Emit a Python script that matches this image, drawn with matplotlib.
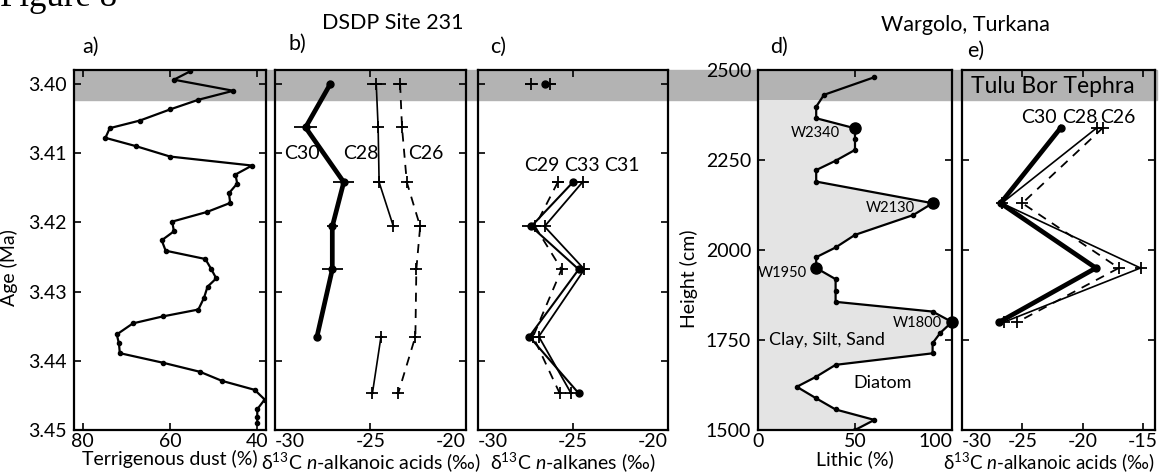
import numpy as np
import matplotlib
matplotlib.use("Agg")
import matplotlib.pyplot as plt
from matplotlib.patches import Rectangle

plt.rcParams['font.family'] = ['Lato', 'DejaVu Sans']
plt.rcParams['mathtext.fontset'] = 'custom'
plt.rcParams['mathtext.rm'] = 'Lato'
plt.rcParams['mathtext.it'] = 'Lato:italic'
plt.rcParams['mathtext.default'] = 'regular'

# ---- panel a: terrigenous dust, DSDP 231
dust_age = [3.3982, 3.3994, 3.4010, 3.4023, 3.4037, 3.4053, 3.4064, 3.4078, 3.4090, 3.4105,
            3.4118, 3.4131, 3.4144, 3.4158, 3.4172, 3.4185, 3.4199, 3.4213, 3.4226, 3.4241,
            3.4253, 3.4267, 3.4281, 3.4293, 3.4309, 3.4326, 3.4336, 3.4346, 3.4362, 3.4375,
            3.4389, 3.4403, 3.4416, 3.4429, 3.4442, 3.4456, 3.4470, 3.4481, 3.4490]
dust_pct = [55.4, 59.1, 45.5, 53.5, 60.0, 66.9, 73.8, 74.8, 67.8, 60.0,
            41.2, 45.0, 44.6, 46.5, 46.2, 51.5, 59.5, 59.1, 61.9, 61.0,
            51.9, 50.6, 49.4, 51.4, 52.2, 53.5, 61.7, 68.5, 72.2, 71.7,
            71.5, 61.5, 53.1, 48.1, 40.6, 38.3, 40.0, 40.0, 40.0]

# ---- panel b: n-alkanoic acids, DSDP 231
acid_age = [3.4000, 3.4063, 3.4142, 3.4206, 3.4268, 3.4365, 3.4447]
acid_c30 = [-27.1, -28.4, -26.4, -27.0, -27.0, -27.8, np.nan]
acid_c30_err = [0, 0.6, 0.55, 0.3, 0.55, 0, 0]
acid_c28 = [-24.7, -24.6, -24.55, -23.8, np.nan, -24.45, -24.9]
acid_c28_err = [0.5, 0.1, 0.3, 0.1, 0, 0.1, 0.1]
acid_c26 = [-23.45, -23.35, -23.1, -22.4, -22.6, -22.65, -23.55]
acid_c26_err = [0.35, 0.1, 0.1, 0.3, 0.1, 0.1, 0.1]

# ---- panel c: n-alkanes, DSDP 231
alk_age = [3.4000, 3.4063, 3.4142, 3.4206, 3.4268, 3.4365, 3.4447]
alk_c29 = [-27.2, np.nan, -25.8, -27.0, -25.6, -27.1, -25.7]
alk_c29_err = [0.35, 0, 0.3, 0.2, 0.1, 0.1, 0.1]
alk_c33 = [-26.5, np.nan, -25.0, -27.2, -24.7, -27.3, -24.7]
alk_c33_err = [0.1, 0, 0.1, 0.5, 0.1, 0.1, 0.1]
alk_c31 = [-26.2, np.nan, -24.5, -26.5, -24.4, -26.8, -25.1]
alk_c31_err = [0.3, 0, 0.3, 0.1, 0.2, 0.1, 0.1]

# ---- panel d: lithic %, Wargolo
lith_h = [2480, 2431, 2398, 2366, 2338, 2307, 2278, 2248, 2222, 2190,
          2130, 2097, 2042, 2007, 1980, 1950, 1919, 1887, 1856, 1829,
          1800, 1770, 1741, 1713, 1681, 1648, 1620, 1588, 1557, 1528, 1500]
lith_pct = [60, 34, 30, 30, 50, 50, 50, 40, 30, 30,
            90, 80, 50, 40, 30, 30, 40, 40, 40, 90,
            100, 94, 90, 90, 40, 30, 20, 30, 40, 60, 50]
sample_names = ['W2340', 'W2130', 'W1950', 'W1800']
sample_h = [2340, 2130, 1950, 1800]
sample_pct = [50, 90, 30, 100]

# ---- panel e: n-alkanoic acids, Wargolo samples
w_h = [2340, 2130, 1950, 1800]
w_c30 = [-21.8, -26.8, -18.9, -26.9]
w_c28 = [-18.8, -26.7, -15.2, -26.5]
w_c26 = [-18.3, -25.0, -17.0, -25.4]

W, H = 1164, 476
fig = plt.figure(figsize=(W / 100, H / 100), dpi=100)


def box(x0, x1, y0=70, y1=430):
    return [x0 / W, 1 - y1 / H, (x1 - x0) / W, (y1 - y0) / H]


band_col = '#b3b3b3'
fig.patches.append(Rectangle((74 / W, 1 - 100 / H), (1157 - 74) / W, 30 / H,
                             transform=fig.transFigure, color=band_col, zorder=-1))

ax_a = fig.add_axes(box(74, 266))
ax_b = fig.add_axes(box(275, 466))
ax_c = fig.add_axes(box(478, 668))
ax_d = fig.add_axes(box(758, 952))
ax_e = fig.add_axes(box(962, 1155))

FS = 14
FT = 15.5
for ax in [ax_a, ax_b, ax_c, ax_d, ax_e]:
    ax.set_facecolor('none')
    ax.tick_params(direction='in', top=True, right=True, length=5, width=1.2,
                   labelsize=FS, pad=2)
    ax.tick_params(axis='y', pad=5)
    for s in ax.spines.values():
        s.set_linewidth(1.6)

# a
ax_a.plot(dust_pct, dust_age, '-', color='k', lw=1.6, marker='o', ms=3)
ax_a.set_xlim(82, 38)
ax_a.set_ylim(3.45, 3.398)
ax_a.set_xticks([80, 60, 40])
ax_a.set_yticks([3.40, 3.41, 3.42, 3.43, 3.44, 3.45])
ax_a.set_yticklabels(['3.40', '3.41', '3.42', '3.43', '3.44', '3.45'])
ax_a.set_xlabel('Terrigenous dust (%)', fontsize=FS, labelpad=0)
ax_a.set_ylabel('Age (Ma)', fontsize=FS)
ax_a.yaxis.set_label_coords(-0.29, 0.45)

# b
ax_b.errorbar(acid_c30, acid_age, xerr=acid_c30_err, color='k', lw=3.4, marker='o', ms=5,
              capsize=0, elinewidth=1.3)
ax_b.errorbar(acid_c28, acid_age, xerr=acid_c28_err, color='k', lw=1.2, marker='+', ms=9,
              mew=1.3, capsize=0, elinewidth=1.3)
ax_b.errorbar(acid_c26, acid_age, xerr=acid_c26_err, color='k', lw=1.3, ls=(0, (5, 4)),
              marker='+', ms=9, mew=1.3, capsize=0, elinewidth=1.3)
ax_b.text(-28.6, 3.4100, 'C30', fontsize=FS, ha='center', va='center')
ax_b.text(-25.5, 3.4100, 'C28', fontsize=FS, ha='center', va='center')
ax_b.text(-22.1, 3.4100, 'C26', fontsize=FS, ha='center', va='center')
ax_b.set_xlim(-30, -20)
ax_b.set_xlabel('δ$^{13}$C $\\it{n}$-alkanoic acids (‰)', fontsize=FS, labelpad=0)

# c
ax_c.errorbar(alk_c29, alk_age, xerr=alk_c29_err, color='k', lw=1.3, ls=(0, (5, 4)),
              marker='+', ms=9, mew=1.3, capsize=0, elinewidth=1.3)
ax_c.errorbar(alk_c33, alk_age, xerr=alk_c33_err, color='k', lw=1.5, marker='o', ms=5,
              capsize=0, elinewidth=1.3)
ax_c.errorbar(alk_c31, alk_age, xerr=alk_c31_err, color='k', lw=1.3, marker='+', ms=9,
              mew=1.3, capsize=0, elinewidth=1.3)
ax_c.text(-26.66, 3.4118, 'C29', fontsize=FS, ha='center', va='center')
ax_c.text(-24.55, 3.4118, 'C33', fontsize=FS, ha='center', va='center')
ax_c.text(-22.45, 3.4118, 'C31', fontsize=FS, ha='center', va='center')
ax_c.set_xlim(-30, -20)
ax_c.set_xlabel('δ$^{13}$C $\\it{n}$-alkanes (‰)', fontsize=FS, labelpad=0)

for ax in [ax_b, ax_c]:
    ax.set_ylim(3.45, 3.398)
    ax.set_yticks([3.40, 3.41, 3.42, 3.43, 3.44, 3.45])
    ax.tick_params(labelleft=False)
    ax.set_xticks([-30, -25, -20])
    ax.set_xticklabels(['-30', '-25', '-20'])
    lab = ax.get_xticklabels()
    lab[0].set_ha('left')
    lab[-1].set_ha('right')

# d
ax_d.fill_betweenx(lith_h, 0, lith_pct, color='#e4e4e4', lw=0, zorder=0.5)
ax_d.axhspan(2416.7, 2500, color=band_col, lw=0, zorder=0.8)
ax_d.plot(lith_pct, lith_h, '-', color='k', lw=1.6, marker='o', ms=3, zorder=2)
ax_d.plot(sample_pct, sample_h, 'o', color='k', ms=8, zorder=3, clip_on=False)
for name, x, y in zip(sample_names, [29.6, 68, 12.6, 82.2], [2325, 2117, 1936, 1796]):
    ax_d.text(x, y, name, fontsize=10.5, ha='center', va='center')
ax_d.text(35.6, 1750, 'Clay, Silt, Sand', fontsize=FS - 1, ha='center', va='center')
ax_d.text(64.4, 1631, 'Diatom', fontsize=FS - 1, ha='center', va='center')
ax_d.set_xlim(0, 100)
ax_d.set_xticks([0, 50, 100])
ax_d.set_xticklabels(['0', '50', '100'])
ax_d.get_xticklabels()[-1].set_ha('right')
ax_d.set_xlabel('Lithic (%)', fontsize=FS, labelpad=0)
ax_d.set_ylabel('Height (cm)', fontsize=FS)
ax_d.yaxis.set_label_coords(-0.31, 0.42)

# e
ax_e.plot(w_c30, w_h, '-', color='k', lw=3.4, marker='o', ms=5)
ax_e.plot(w_c28, w_h, '-', color='k', lw=1.2, marker='+', ms=9, mew=1.3)
ax_e.plot(w_c26, w_h, color='k', lw=1.3, ls=(0, (5, 4)), marker='+', ms=9, mew=1.3)
ax_e.text(-22.5, 2453, 'Tulu Bor Tephra', fontsize=FS + 2.5, ha='center', va='center')
ax_e.text(-23.6, 2367, 'C30', fontsize=FS, ha='center', va='center')
ax_e.text(-20.2, 2367, 'C28', fontsize=FS, ha='center', va='center')
ax_e.text(-17.1, 2367, 'C26', fontsize=FS, ha='center', va='center')
ax_e.set_xlim(-30, -14)
ax_e.set_xticks([-30, -25, -20, -15])
ax_e.set_xticklabels(['-30', '-25', '-20', '-15'])
ax_e.get_xticklabels()[0].set_ha('left')
ax_e.tick_params(labelleft=False)
ax_e.set_xlabel('δ$^{13}$C $\\it{n}$-alkanoic acids (‰)', fontsize=FS - 0.5, labelpad=0)
ax_e.xaxis.set_label_coords(0.45, -0.055)

for ax in [ax_d, ax_e]:
    ax.set_ylim(1500, 2500)
    ax.set_yticks([1500, 1750, 2000, 2250, 2500])

# figure text
fig.text(0 / W, 1 - 6 / H, 'Figure 8', fontsize=25, family='Liberation Serif',
         ha='left', va='baseline')
fig.text(393 / W, 1 - 23 / H, 'DSDP Site 231', fontsize=FT, ha='center', va='center')
fig.text(965 / W, 1 - 25 / H, 'Wargolo, Turkana', fontsize=FT, ha='center', va='center')
for lbl, x, y in [('a)', 82, 47), ('b)', 288, 44), ('c)', 490, 47), ('d)', 770, 47), ('e)', 967, 51)]:
    fig.text(x / W, 1 - y / H, lbl, fontsize=FT, ha='left', va='center')

fig.savefig('out.png', dpi=100, facecolor='white')
